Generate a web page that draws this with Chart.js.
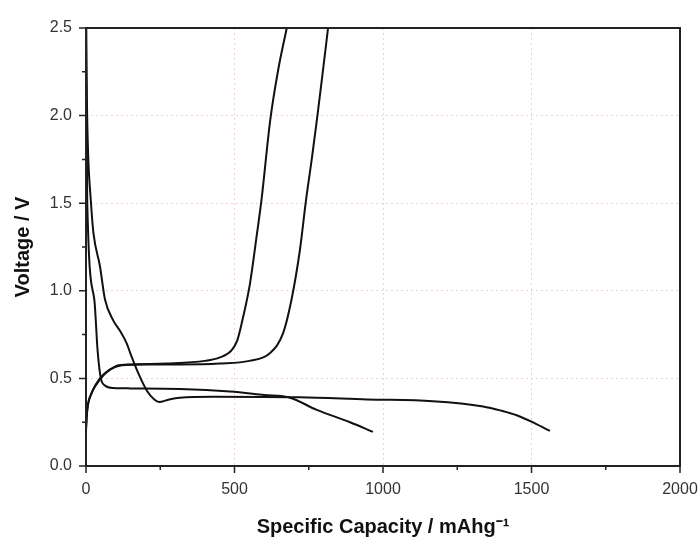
<!DOCTYPE html>
<html>
<head>
<meta charset="utf-8">
<script src="https://cdn.jsdelivr.net/npm/chart.js@4/dist/chart.umd.min.js"></script>
<style>
  html, body { margin: 0; padding: 0; background: #fff; }
  #wrap { width: 699px; height: 539px; }
</style>
</head>
<body>
<div id="wrap"><canvas id="gcd" width="699" height="539"></canvas></div>
<script>
/* ================= DATA ================= */
// 1st discharge
var dis1Cap  = [1, 3, 7, 16, 25, 47, 64, 92, 115, 137, 150, 176, 205, 230, 246, 280, 316, 428, 720, 946, 1168, 1337, 1400, 1450, 1510, 1562];
var dis1Volt = [2.5, 2.1, 1.79, 1.52, 1.33, 1.14, 0.95, 0.83, 0.77, 0.70, 0.64, 0.53, 0.43, 0.38, 0.365, 0.38, 0.39, 0.395, 0.392, 0.38, 0.37, 0.34, 0.315, 0.29, 0.245, 0.2];
// 2nd discharge
var dis2Cap  = [0, 2, 4, 28, 39, 50, 64, 92, 150, 316, 485, 600, 687, 777, 889, 966];
var dis2Volt = [2.3, 2.0, 1.52, 0.95, 0.66, 0.5, 0.46, 0.445, 0.443, 0.44, 0.425, 0.405, 0.39, 0.32, 0.25, 0.195];
// 2nd charge
var chg2Cap  = [0, 3, 15, 37, 60, 81, 104, 150, 272, 400, 451, 490, 510, 529, 552, 576, 591, 620, 647, 676];
var chg2Volt = [0.2, 0.3, 0.4, 0.47, 0.52, 0.55, 0.572, 0.58, 0.585, 0.6, 0.62, 0.66, 0.72, 0.85, 1.04, 1.33, 1.52, 1.97, 2.26, 2.5];
// 1st charge
var chg1Cap  = [0, 5, 20, 47, 80, 120, 200, 316, 450, 550, 620, 664, 692, 720, 741, 760, 777, 798, 815];
var chg1Volt = [0.22, 0.33, 0.42, 0.5, 0.55, 0.575, 0.58, 0.58, 0.585, 0.6, 0.645, 0.76, 0.95, 1.23, 1.52, 1.75, 1.97, 2.26, 2.5];

var xMajor = [0, 500, 1000, 1500, 2000];
var xMinor = [250, 750, 1250, 1750];
var yMajor = [0, 0.5, 1.0, 1.5, 2.0, 2.5];
var yMinor = [0.25, 0.75, 1.25, 1.75, 2.25];

/* ================= HELPERS ================= */
function toPoints(xs, ys) {
    return xs.map(function (x, i) { return { x: x, y: ys[i] }; });
}
function curve(xs, ys) {
    return {
        data: toPoints(xs, ys),
        borderColor: "#111",
        borderWidth: 2,
        pointRadius: 0,
        cubicInterpolationMode: "monotone",
        fill: false
    };
}

/* ================= FRAME + TICKS ================= */
var framePlugin = {
    id: "frame",
    afterDraw: function (chart) {
        var ctx = chart.ctx;
        var a = chart.chartArea;
        var xs = chart.scales.x, ys = chart.scales.y;
        ctx.save();
        ctx.strokeStyle = "#222";
        ctx.lineWidth = 2;
        ctx.strokeRect(a.left, a.top, a.right - a.left, a.bottom - a.top);
        ctx.lineWidth = 1.5;
        ctx.beginPath();
        xMajor.forEach(function (v) {
            var p = xs.getPixelForValue(v);
            ctx.moveTo(p, a.bottom); ctx.lineTo(p, a.bottom + 7);
        });
        xMinor.forEach(function (v) {
            var p = xs.getPixelForValue(v);
            ctx.moveTo(p, a.bottom); ctx.lineTo(p, a.bottom + 4);
        });
        yMajor.forEach(function (v) {
            var p = ys.getPixelForValue(v);
            ctx.moveTo(a.left, p); ctx.lineTo(a.left - 7, p);
        });
        yMinor.forEach(function (v) {
            var p = ys.getPixelForValue(v);
            ctx.moveTo(a.left, p); ctx.lineTo(a.left - 4, p);
        });
        ctx.stroke();
        ctx.restore();
    }
};

/* ================= CHART ================= */
new Chart(document.getElementById("gcd").getContext("2d"), {
    type: "line",
    data: {
        datasets: [
            curve(dis1Cap, dis1Volt),
            curve(dis2Cap, dis2Volt),
            curve(chg2Cap, chg2Volt),
            curve(chg1Cap, chg1Volt)
        ]
    },
    options: {
        responsive: false,
        animation: false,
        layout: { padding: { top: 28, right: 19, left: 0, bottom: 0 } },
        plugins: { legend: { display: false }, tooltip: { enabled: false } },
        scales: {
            x: {
                type: "linear",
                min: 0, max: 2000,
                afterFit: function (s) { s.height = 73; s.paddingRight = 0; },
                ticks: {
                    stepSize: 500,
                    color: "#333",
                    padding: 7,
                    font: { family: "Arial, 'Liberation Sans'", size: 16 },
                    callback: function (v) { return String(v); }
                },
                grid: { color: "#ecd0e2", lineWidth: 1, tickLength: 7, tickColor: "transparent" },
                border: { display: false, dash: [2, 3] },
                title: {
                    display: true,
                    text: "Specific Capacity / mAhg\u207B\u00B9",
                    color: "#111",
                    padding: { top: 6, bottom: 0 },
                    font: { family: "Arial, 'Liberation Sans'", size: 20, weight: "bold" }
                }
            },
            y: {
                type: "linear",
                min: 0, max: 2.5,
                afterFit: function (s) { s.width = 86; },
                ticks: {
                    stepSize: 0.5,
                    color: "#333",
                    padding: 7,
                    font: { family: "Arial, 'Liberation Sans'", size: 16 },
                    callback: function (v) { return Number(v).toFixed(1); }
                },
                grid: { color: "#ecd0e2", lineWidth: 1, tickLength: 7, tickColor: "transparent" },
                border: { display: false, dash: [2, 3] },
                title: {
                    display: true,
                    text: "Voltage / V",
                    color: "#111",
                    padding: { top: 11, bottom: 0 },
                    font: { family: "Arial, 'Liberation Sans'", size: 20, weight: "bold" }
                }
            }
        }
    },
    plugins: [framePlugin]
});
</script>
</body>
</html>
